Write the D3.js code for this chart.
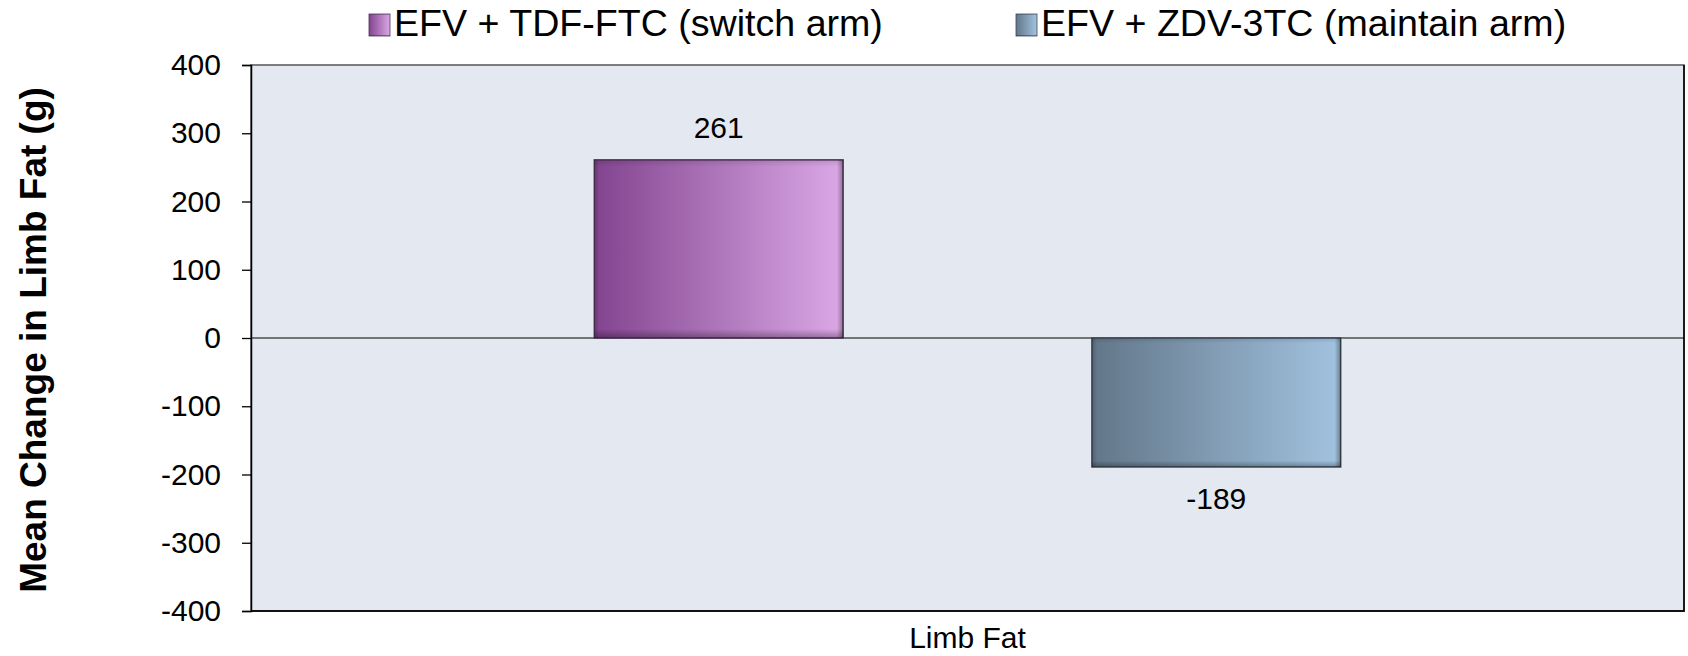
<!DOCTYPE html>
<html>
<head>
<meta charset="utf-8">
<script src="https://cdn.jsdelivr.net/npm/d3@7"></script>
<style>
  body { margin: 0; background: #fff; }
  text { font-family: Arial, "Liberation Sans", sans-serif; fill: #000; }
</style>
</head>
<body>
<svg id="chart" width="1688" height="656"></svg>
<script>
// Data
const categories = ["Limb Fat"];
const seriesNames = ["EFV + TDF-FTC (switch arm)", "EFV + ZDV-3TC (maintain arm)"];
const seriesValues = [261, -189];
const yTicks = [400, 300, 200, 100, 0, -100, -200, -300, -400];
const yTitle = "Mean Change in Limb Fat (g)";

// Colours for each series: [dark left, light right, edge]
const seriesColors = [
    ["#82448f", "#dba8e6", "#4e3356"],
    ["#627688", "#a2c3e0", "#3c4a58"]
];

const svg = d3.select("#chart");
const margin = { top: 65, right: 4, bottom: 45, left: 251 };
const width = +svg.attr("width");
const height = +svg.attr("height");
const plotW = width - margin.left - margin.right;
const plotH = height - margin.top - margin.bottom;

const y = d3.scaleLinear().domain([-400, 400]).range([margin.top + plotH, margin.top]);
const x0 = d3.scaleBand().domain(categories).range([margin.left, margin.left + plotW]);
const x1 = d3.scaleBand().domain(seriesNames).range([0, x0.bandwidth()])
    .paddingInner(0.5).paddingOuter(0.69);

// Gradients
const defs = svg.append("defs");
seriesColors.forEach((c, i) => {
    const g = defs.append("linearGradient").attr("id", "grad" + i)
        .attr("x1", "0%").attr("x2", "100%").attr("y1", "0%").attr("y2", "0%");
    g.append("stop").attr("offset", "0%").attr("stop-color", c[0]);
    g.append("stop").attr("offset", "100%").attr("stop-color", c[1]);
});
// soft bevel shading (dark at bottom edge)
const bev = defs.append("linearGradient").attr("id", "bevelV")
    .attr("x1", "0%").attr("x2", "0%").attr("y1", "0%").attr("y2", "100%");
bev.append("stop").attr("offset", "0%").attr("stop-color", "#000").attr("stop-opacity", 0.12);
bev.append("stop").attr("offset", "4%").attr("stop-color", "#000").attr("stop-opacity", 0);
bev.append("stop").attr("offset", "95%").attr("stop-color", "#000").attr("stop-opacity", 0);
bev.append("stop").attr("offset", "100%").attr("stop-color", "#000").attr("stop-opacity", 0.3);
const bevH = defs.append("linearGradient").attr("id", "bevelH")
    .attr("x1", "0%").attr("x2", "100%").attr("y1", "0%").attr("y2", "0%");
bevH.append("stop").attr("offset", "0%").attr("stop-color", "#000").attr("stop-opacity", 0.2);
bevH.append("stop").attr("offset", "2%").attr("stop-color", "#000").attr("stop-opacity", 0);
bevH.append("stop").attr("offset", "97.5%").attr("stop-color", "#000").attr("stop-opacity", 0);
bevH.append("stop").attr("offset", "100%").attr("stop-color", "#000").attr("stop-opacity", 0.35);

// Plot background
svg.append("rect")
    .attr("x", margin.left).attr("y", margin.top)
    .attr("width", plotW).attr("height", plotH)
    .attr("fill", "#e4e8f0")
    .attr("stroke", "#555").attr("stroke-width", 1.5);
// right and bottom edges are darker
svg.append("path")
    .attr("d", `M${margin.left + plotW},${margin.top}V${margin.top + plotH}H${margin.left}`)
    .attr("fill", "none").attr("stroke", "#111").attr("stroke-width", 1.8);

// Y axis
const yAxis = svg.append("g")
    .attr("transform", `translate(${margin.left},0)`)
    .call(d3.axisLeft(y).tickValues(yTicks).tickSize(9).tickPadding(21).tickFormat(d => String(d)));
yAxis.select(".domain").attr("stroke", "#000").attr("stroke-width", 1.5);
yAxis.selectAll(".tick line").attr("stroke", "#000").attr("stroke-width", 1.3);
yAxis.selectAll(".tick text")
    .attr("font-size", 30).attr("fill", "#000")
    .style("font-family", "Arial, 'Liberation Sans', sans-serif");

// Zero line
svg.append("line")
    .attr("x1", margin.left).attr("x2", margin.left + plotW)
    .attr("y1", y(0)).attr("y2", y(0))
    .attr("stroke", "#000").attr("stroke-width", 1.2);

// Bars
const bars = svg.append("g").selectAll("g")
    .data(seriesNames.map((name, i) => ({ name, value: seriesValues[i], i })))
    .join("g")
    .attr("transform", d => `translate(${x0(categories[0]) + x1(d.name)},${Math.min(y(d.value), y(0))})`);

bars.append("rect")
    .attr("width", x1.bandwidth())
    .attr("height", d => Math.abs(y(d.value) - y(0)))
    .attr("fill", d => `url(#grad${d.i})`)
    .attr("stroke", d => seriesColors[d.i][2])
    .attr("stroke-width", 1.5);
bars.append("rect")
    .attr("width", x1.bandwidth())
    .attr("height", d => Math.abs(y(d.value) - y(0)))
    .attr("fill", "url(#bevelV)");
bars.append("rect")
    .attr("width", x1.bandwidth())
    .attr("height", d => Math.abs(y(d.value) - y(0)))
    .attr("fill", "url(#bevelH)");

// Value labels
svg.append("g").selectAll("text")
    .data(seriesNames.map((name, i) => ({ name, value: seriesValues[i] })))
    .join("text")
    .attr("x", d => x0(categories[0]) + x1(d.name) + x1.bandwidth() / 2)
    .attr("y", d => d.value >= 0 ? y(d.value) - 22 : y(d.value) + 42)
    .attr("text-anchor", "middle")
    .attr("font-size", 30)
    .text(d => d.value);

// Category label
svg.append("text")
    .attr("x", x0(categories[0]) + x0.bandwidth() / 2)
    .attr("y", 648)
    .attr("text-anchor", "middle")
    .attr("font-size", 30)
    .text(categories[0]);

// Y title
svg.append("text")
    .attr("transform", `translate(46,${margin.top + plotH / 2 + 2}) rotate(-90)`)
    .attr("text-anchor", "middle")
    .attr("font-size", 37)
    .attr("font-weight", "bold")
    .text(yTitle);

// Legend
const legendX = [369, 1016];
const legend = svg.append("g").selectAll("g")
    .data(seriesNames)
    .join("g")
    .attr("transform", (d, i) => `translate(${legendX[i]},14)`);
legend.append("rect")
    .attr("width", 21).attr("height", 22)
    .attr("fill", (d, i) => `url(#grad${i})`)
    .attr("stroke", (d, i) => seriesColors[i][2]).attr("stroke-width", 0.8);
legend.append("rect")
    .attr("width", 21).attr("height", 22)
    .attr("fill", "url(#bevelV)");
legend.append("text")
    .attr("x", 25).attr("y", 22)
    .attr("font-size", 37.6)
    .text(d => d);
</script>
</body>
</html>
